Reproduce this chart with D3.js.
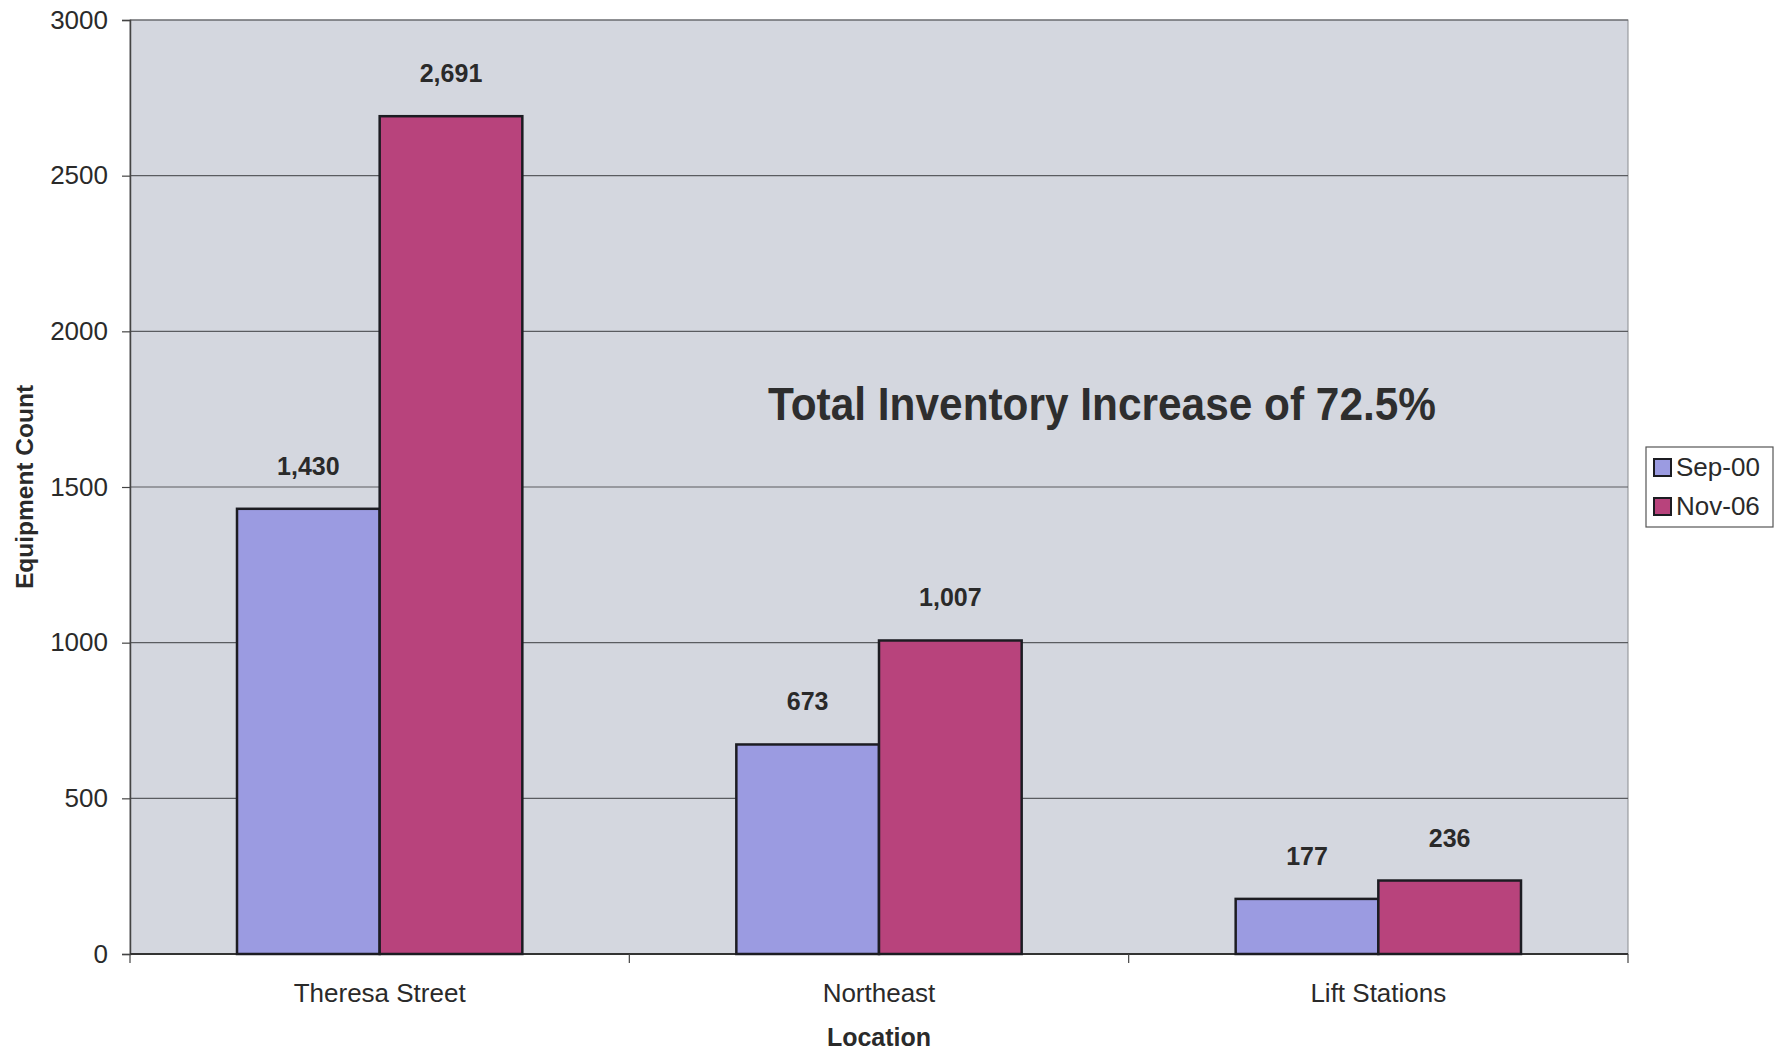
<!DOCTYPE html>
<html>
<head>
<meta charset="utf-8">
<script src="https://cdn.jsdelivr.net/npm/d3@7"></script>
<style>
  html, body { margin: 0; padding: 0; background: #ffffff; }
  svg { display: block; font-family: "Liberation Sans", Arial, sans-serif; }
</style>
</head>
<body>
<svg id="chart" width="1781" height="1051"></svg>
<script>
// Equipment inventory by location, two survey dates
const locations = ["Theresa Street", "Northeast", "Lift Stations"];
const seriesNames = ["Sep-00", "Nov-06"];
const sep00 = [1430, 673, 177];
const nov06 = [2691, 1007, 236];
const yTicks = [0, 500, 1000, 1500, 2000, 2500, 3000];
const note = "Total Inventory Increase of 72.5%";
const xTitle = "Location";
const yTitle = "Equipment Count";

const colors = { "Sep-00": "#9b9be1", "Nov-06": "#b8437c" };

const svg = d3.select("#chart");
const plot = { left: 130, right: 1628, top: 20, bottom: 954 };

const x = d3.scaleBand().domain(locations).range([plot.left, plot.right]).padding(0);
// two bars per group with a 150% gap between groups
const xInner = d3.scaleBand().domain(seriesNames)
  .range([0, x.bandwidth()]).paddingOuter(0.75).paddingInner(0);
const y = d3.scaleLinear().domain([0, 3000]).range([plot.bottom, plot.top]);

const rows = locations.map((loc, i) => ({ loc, values: [
  { name: "Sep-00", value: sep00[i] },
  { name: "Nov-06", value: nov06[i] }
]}));

// plot area
svg.append("rect")
  .attr("x", plot.left).attr("y", plot.top)
  .attr("width", plot.right - plot.left).attr("height", plot.bottom - plot.top)
  .attr("fill", "#d4d7df").attr("stroke", "#8a8c90").attr("stroke-width", 1);

// gridlines
svg.append("g").selectAll("line").data(yTicks.filter(d => d > 0)).join("line")
  .attr("x1", plot.left).attr("x2", plot.right)
  .attr("y1", d => y(d)).attr("y2", d => y(d))
  .attr("stroke", "#5a5c60").attr("stroke-width", 1.2);

// y axis
const yAxis = svg.append("g").attr("transform", `translate(${plot.left},0)`)
  .call(d3.axisLeft(y).tickValues(yTicks).tickSize(8).tickPadding(14).tickFormat(d3.format("d")));
yAxis.select(".domain").attr("stroke", "#444").attr("stroke-width", 1.5);
yAxis.selectAll(".tick line").attr("stroke", "#444").attr("stroke-width", 1.2);
yAxis.selectAll(".tick text").attr("font-size", 26).attr("fill", "#2a2a2a")
  .attr("font-family", "Liberation Sans, Arial, sans-serif");

// x axis with ticks at category boundaries
const xAxisG = svg.append("g").attr("transform", `translate(0,${plot.bottom})`);
xAxisG.append("line").attr("x1", plot.left).attr("x2", plot.right)
  .attr("y1", 0).attr("y2", 0).attr("stroke", "#333").attr("stroke-width", 1.8);
const boundaries = locations.map(d => x(d)).concat([x(locations[locations.length - 1]) + x.bandwidth()]);
xAxisG.selectAll("line.tk").data(boundaries).join("line").attr("class", "tk")
  .attr("x1", d => d).attr("x2", d => d).attr("y1", 0).attr("y2", 9)
  .attr("stroke", "#444").attr("stroke-width", 1.2);
xAxisG.selectAll("text").data(locations).join("text")
  .attr("x", d => x(d) + x.bandwidth() / 2).attr("y", 48)
  .attr("text-anchor", "middle").attr("font-size", 26).attr("fill", "#2a2a2a")
  .text(d => d);

// bars
const groups = svg.append("g").selectAll("g").data(rows).join("g")
  .attr("transform", d => `translate(${x(d.loc)},0)`);
groups.selectAll("rect").data(d => d.values).join("rect")
  .attr("x", d => xInner(d.name)).attr("width", xInner.bandwidth())
  .attr("y", d => y(d.value)).attr("height", d => y(0) - y(d.value))
  .attr("fill", d => colors[d.name]).attr("stroke", "#1c1c22").attr("stroke-width", 2.5);

// value labels
groups.selectAll("text").data(d => d.values).join("text")
  .attr("x", d => xInner(d.name) + xInner.bandwidth() / 2)
  .attr("y", d => y(d.value) - 34)
  .attr("text-anchor", "middle").attr("font-size", 25).attr("font-weight", "bold")
  .attr("fill", "#2a2a2a")
  .text(d => d3.format(",")(d.value));

// annotation
svg.append("text").attr("x", 1102).attr("y", 420)
  .attr("text-anchor", "middle").attr("font-size", 46).attr("font-weight", "bold")
  .attr("fill", "#2e2e2e").attr("textLength", 668).attr("lengthAdjust", "spacingAndGlyphs")
  .text(note);

// axis titles
svg.append("text").attr("x", (plot.left + plot.right) / 2).attr("y", 1046)
  .attr("text-anchor", "middle").attr("font-size", 25).attr("font-weight", "bold")
  .attr("fill", "#2a2a2a").text(xTitle);
svg.append("text").attr("transform", `translate(33,${(plot.top + plot.bottom) / 2}) rotate(-90)`)
  .attr("text-anchor", "middle").attr("font-size", 24.5).attr("font-weight", "bold")
  .attr("fill", "#2a2a2a").text(yTitle);

// legend
const legend = svg.append("g").attr("transform", "translate(1646,447)");
legend.append("rect").attr("width", 127).attr("height", 80)
  .attr("fill", "#ffffff").attr("stroke", "#555").attr("stroke-width", 1.2);
const li = legend.selectAll("g").data(seriesNames).join("g")
  .attr("transform", (d, i) => `translate(8,${12 + i * 39})`);
li.append("rect").attr("width", 17).attr("height", 17)
  .attr("fill", d => colors[d]).attr("stroke", "#1c1c22").attr("stroke-width", 2);
li.append("text").attr("x", 22).attr("y", 17).attr("font-size", 26).attr("fill", "#2a2a2a")
  .text(d => d);
</script>
</body>
</html>
